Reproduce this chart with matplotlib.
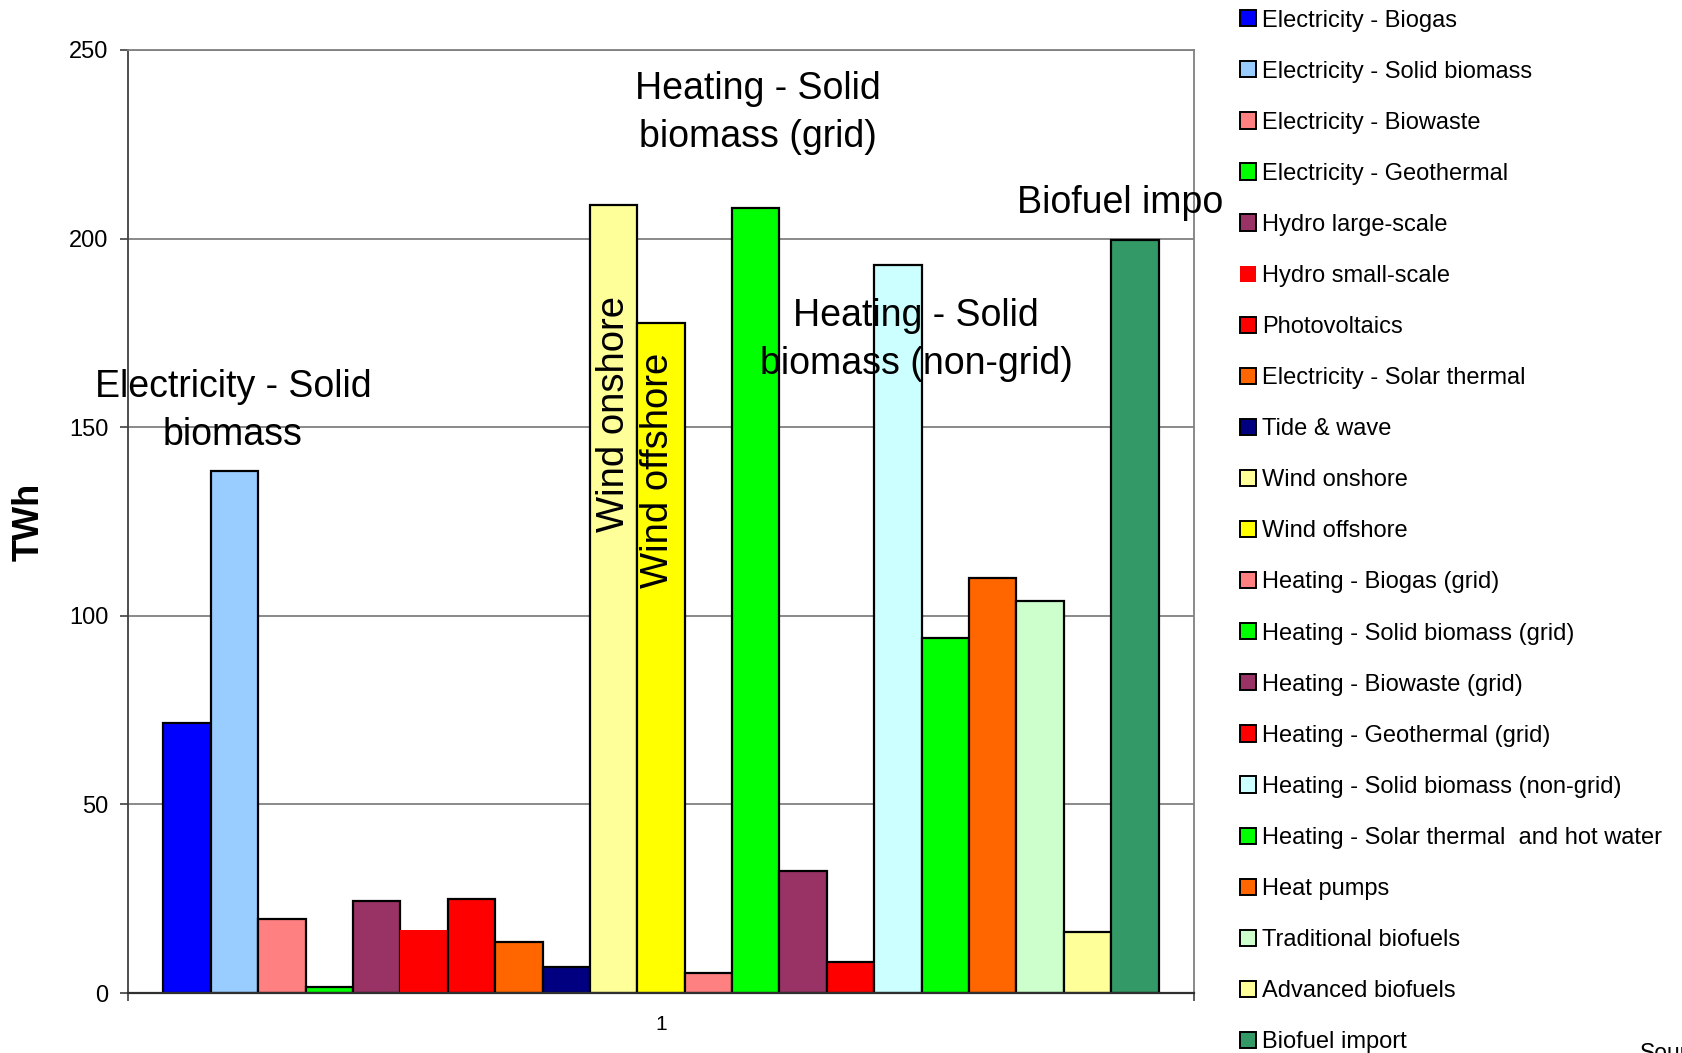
import matplotlib
matplotlib.use("Agg")
import matplotlib.pyplot as plt
from matplotlib.patches import Patch
from matplotlib.transforms import Bbox, TransformedBbox

plt.rcParams["font.family"] = ["Liberation Sans", "DejaVu Sans"]

# Renewable energy technologies (one bar each) and their output in TWh
technologies = [
    "Electricity - Biogas",
    "Electricity - Solid biomass",
    "Electricity - Biowaste",
    "Electricity - Geothermal",
    "Hydro large-scale",
    "Hydro small-scale",
    "Photovoltaics",
    "Electricity - Solar thermal",
    "Tide & wave",
    "Wind onshore",
    "Wind offshore",
    "Heating - Biogas (grid)",
    "Heating - Solid biomass (grid)",
    "Heating - Biowaste (grid)",
    "Heating - Geothermal (grid)",
    "Heating - Solid biomass (non-grid)",
    "Heating - Solar thermal  and hot water",
    "Heat pumps",
    "Traditional biofuels",
    "Advanced biofuels",
    "Biofuel import",
]
twh = [71.5, 138.5, 19.5, 1.5, 24.5, 16.8, 24.8, 13.5, 6.8, 209.0, 177.5,
       5.2, 208.0, 32.3, 8.3, 193.0, 94.0, 110.0, 104.0, 16.3, 199.6]
colors = ["#0000FF", "#99CCFF", "#FF8080", "#00FF00", "#993366", "#FF0000",
          "#FF0000", "#FF6600", "#000080", "#FFFF99", "#FFFF00", "#FF8080",
          "#00FF00", "#993366", "#FF0000", "#CCFFFF", "#00FF00", "#FF6600",
          "#CCFFCC", "#FFFF99", "#339966"]
no_edge = ["Hydro small-scale"]

category_labels = ["1"]
y_ticks = [0, 50, 100, 150, 200, 250]

W, H = 1683, 1053
fig = plt.figure(figsize=(W / 100, H / 100), dpi=100)
ax = fig.add_axes([128 / W, 1 - 993 / H, 1066 / W, 943 / H])

n = len(technologies)
group_width = 0.9335
bw = group_width / n
handles = []
for i, (name, val, col) in enumerate(zip(technologies, twh, colors)):
    x = 1 - group_width / 2 + bw * (i + 0.5)
    ec = "none" if name in no_edge else "black"
    ax.bar(x, val, width=bw, color=col, edgecolor=ec, linewidth=1.6, zorder=2)
    handles.append(Patch(facecolor=col, edgecolor=ec, linewidth=1.4, label=name))

ax.set_xlim(0.5, 1.5)
ax.set_ylim(0, 250)
ax.set_yticks(y_ticks)
ax.set_yticklabels([str(t) for t in y_ticks], fontsize=17)
ax.set_xticks([1])
ax.set_xticklabels(category_labels, fontsize=15)
ax.set_xticks([0.5, 1.5], minor=True)
ax.tick_params(axis="x", which="major", length=0, pad=16)
ax.tick_params(axis="x", which="minor", length=6, width=1.2, color="#404040", direction="out")
ax.tick_params(axis="y", length=6, width=1.2, color="#404040", direction="out", pad=8)

ax.grid(axis="y", color="#808080", linewidth=1.3, zorder=0)
ax.set_axisbelow(True)
for side in ("top", "right"):
    ax.spines[side].set_color("#808080")
    ax.spines[side].set_linewidth(1.3)
ax.spines["left"].set_color("#404040")
ax.spines["left"].set_linewidth(1.3)
ax.spines["bottom"].set_color("#303030")
ax.spines["bottom"].set_linewidth(1.6)

ax.set_ylabel("TWh", fontsize=26, fontweight="bold", va="center")
ax.yaxis.set_label_coords(-0.093, 0.5)

# Labels for the largest contributions
def fig_xy(px, py):
    return px / W, 1 - py / H

ann_kw = dict(fontsize=27, ha="center", va="center", linespacing=1.42, zorder=5)
fig.text(*fig_xy(233, 411), "Electricity - Solid\nbiomass", **ann_kw)
fig.text(*fig_xy(758, 113), "Heating - Solid\nbiomass (grid)", **ann_kw)
fig.text(*fig_xy(916, 340), "Heating - Solid\nbiomass (non-grid)", **ann_kw)
biofuel = fig.text(*fig_xy(1017, 203), "Biofuel import", fontsize=27,
                   ha="left", va="center", zorder=5)
biofuel.set_clip_box(TransformedBbox(Bbox([[0, 0], [1225 / W, 1]]), fig.transFigure))
biofuel.set_clip_on(True)

fig.text(*fig_xy(614, 414), "Wind onshore", fontsize=27.5, rotation=90,
         ha="center", va="center", zorder=5)
fig.text(*fig_xy(658, 470), "Wind offshore", fontsize=27.5, rotation=90,
         ha="center", va="center", zorder=5)

fig.legend(handles=handles, loc="upper left",
           bbox_to_anchor=(1240 / W, 1 - 9.5 / H), bbox_transform=fig.transFigure,
           frameon=False, fontsize=17, handlelength=0.68, handleheight=0.68,
           handletextpad=0.27, labelspacing=1.232, borderpad=0, borderaxespad=0)

fig.text(1640 / W, 1 - 1042 / H, "Source:", fontsize=16.5, ha="left", va="top")

fig.savefig("out.png", dpi=100, facecolor="white")
